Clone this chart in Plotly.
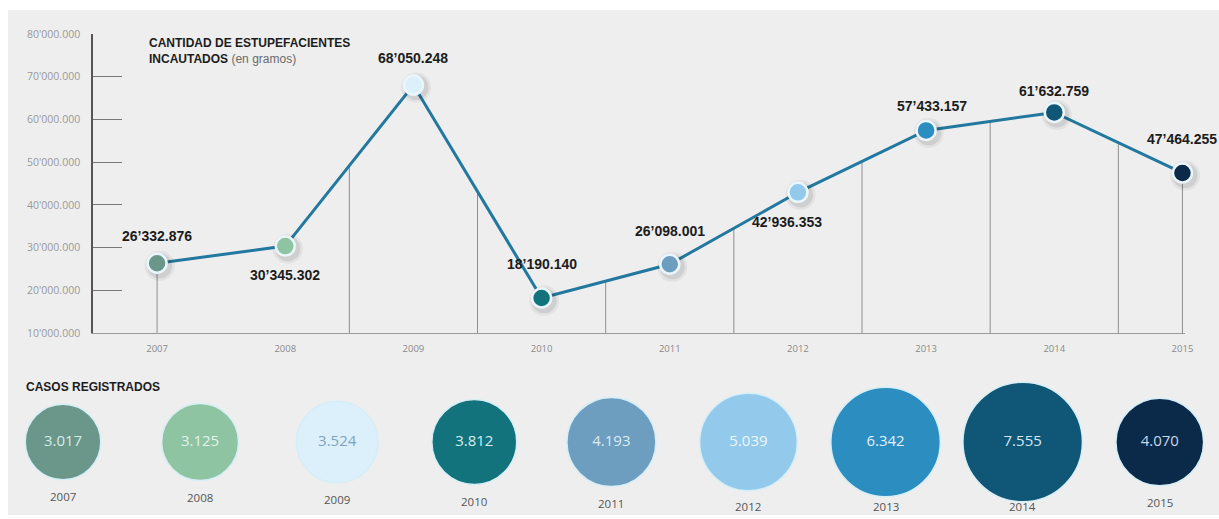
import numpy as np
import plotly.graph_objects as go

# ---- data -------------------------------------------------------------
years = [2007, 2008, 2009, 2010, 2011, 2012, 2013, 2014, 2015]
gramos = [26332876, 30345302, 68050248, 18190140, 26098001,
          42936353, 57433157, 61632759, 47464255]
casos = [3017, 3125, 3524, 3812, 4193, 5039, 6342, 7555, 4070]
y_ticks = [10000000, 20000000, 30000000, 40000000,
           50000000, 60000000, 70000000, 80000000]

# ---- styling ----------------------------------------------------------
year_colors = ["#6b978b", "#8fc4a3", "#dcf0fb", "#13737d", "#6d9dbf",
               "#93c9ea", "#2b8dc0", "#0f5677", "#0b2a4a"]
bubble_text_colors = ["#d4ece6", "#e2f2ea", "#7fa3bd", "#d4ecee", "#dcebf4",
                      "#eef7fc", "#e2f1f9", "#d6e8f2", "#c8d8e8"]
label_dy = [-27, 29, -27, -34, -33, 30, -24, -21, -34]   # px, negative = above
label_dx = [0, 0, 0, 0, 0, -11, 6, 0, 0]
BG = "#eeeeee"
LINE = "#22789f"
BOLD = "Liberation Sans, Arial, sans-serif"
SANS = "Open Sans, Noto Sans, sans-serif"

W, H = 1219, 519
ROW_Y = 442          # pixel row of the bubble centres


def fmt_amount(v, sep="\u2019"):
    s = f"{v:,}".replace(",", ".")
    parts = s.split(".")
    if len(parts) == 3:
        return parts[0] + sep + parts[1] + "." + parts[2]
    return s


fig = go.Figure()

# thin vertical guides from the curve down to the baseline
mid_x = [y + 0.5 for y in years[1:-1]]
guide_x = [years[0]] + mid_x + [years[-1]]
shapes = []
for gx in guide_x:
    top = float(np.interp(gx, years, gramos))
    shapes.append(dict(type="line", xref="x", yref="y", x0=gx, x1=gx,
                       y0=y_ticks[0], y1=top, layer="below",
                       line=dict(color="#8f8f8f", width=1)))

# white frame round the panel
shapes += [
    dict(type="rect", xref="paper", yref="paper", x0=0, x1=1, y0=1 - 10 / H, y1=1,
         fillcolor="white", line=dict(width=0), layer="below"),
    dict(type="rect", xref="paper", yref="paper", x0=0, x1=8 / W, y0=0, y1=1,
         fillcolor="white", line=dict(width=0), layer="below"),
    dict(type="rect", xref="paper", yref="paper", x0=0, x1=1, y0=0, y1=4 / H,
         fillcolor="white", line=dict(width=0), layer="below"),
]

# seized quantities: line
fig.add_trace(go.Scatter(x=years, y=gramos, mode="lines",
                         line=dict(color=LINE, width=3), hoverinfo="skip",
                         cliponaxis=False, showlegend=False))
# soft shadow under the points
for sz, op in [(30, 0.06), (25, 0.10)]:
    fig.add_trace(go.Scatter(x=[y + 0.02 for y in years],
                             y=[g - 600000 for g in gramos], mode="markers",
                             marker=dict(size=sz, color=f"rgba(40,40,40,{op})",
                                         line=dict(width=0)),
                             hoverinfo="skip", cliponaxis=False, showlegend=False))
fig.add_trace(go.Scatter(x=years, y=gramos, mode="markers",
                         marker=dict(size=19, color=year_colors,
                                     line=dict(color="#eaf6fb", width=2.5)),
                         cliponaxis=False, showlegend=False))

annotations = []
for yr, g, dx, dy in zip(years, gramos, label_dx, label_dy):
    annotations.append(dict(x=yr, y=g, xref="x", yref="y", text=f"<b>{fmt_amount(g)}</b>",
                            showarrow=False, xshift=dx, yshift=-dy,
                            font=dict(family=BOLD, size=14, color="#1c1c1c")))

# registered cases: area-proportional bubbles
k = 1.375
diam = [k * np.sqrt(c) for c in casos]
fig.add_trace(go.Scatter(x=years, y=[0] * len(years), xaxis="x2", yaxis="y2",
                         mode="markers+text",
                         marker=dict(size=diam, sizemode="diameter", color=year_colors,
                                     line=dict(color="#d6eef6", width=1.5), opacity=1),
                         text=[f"{c:,}".replace(",", ".") for c in casos],
                         textposition="middle center",
                         textfont=dict(family=SANS, size=15, color=bubble_text_colors),
                         cliponaxis=False, showlegend=False))
for yr, d in zip(years, diam):
    label_px = min(ROW_Y + d / 2 + 17, 506)
    annotations.append(dict(x=yr, y=ROW_Y - label_px, xref="x2", yref="y2", text=str(yr),
                            showarrow=False, yanchor="middle",
                            font=dict(family=SANS, size=11.5, color="#555555")))

# headings
annotations.append(dict(x=147 / W, y=1 - 34 / H, xref="paper", yref="paper",
                        xanchor="left", yanchor="top", align="left", showarrow=False,
                        text="<b>CANTIDAD DE ESTUPEFACIENTES</b><br><b>INCAUTADOS</b> "
                             "<span style='color:#6a6a6a'>(en gramos)</span>",
                        font=dict(family=BOLD, size=12, color="#1c1c1c")))
annotations.append(dict(x=24 / W, y=1 - 387 / H, xref="paper", yref="paper",
                        xanchor="left", yanchor="middle", showarrow=False,
                        text="<b>CASOS REGISTRADOS</b>",
                        font=dict(family=BOLD, size=12, color="#1c1c1c")))

fig.update_layout(
    width=W, height=H, autosize=False,
    margin=dict(l=0, r=0, t=0, b=0, autoexpand=False),
    paper_bgcolor=BG, plot_bgcolor="rgba(0,0,0,0)",
    shapes=shapes, annotations=annotations, showlegend=False,
    xaxis=dict(domain=[93 / W, 1185 / W], range=[2006.5, 2015.02],
               tickvals=years, ticktext=[str(y) for y in years],
               showgrid=False, zeroline=False, showline=True,
               linecolor="#9a9a9a", linewidth=1, ticks="",
               ticklabelstandoff=7,
               tickfont=dict(family=SANS, size=9.5, color="#8a8a8a")),
    yaxis=dict(domain=[1 - 333 / H, 1 - 34 / H], range=[10000000, 80000000],
               tickvals=y_ticks, ticktext=[fmt_amount(v, "'") for v in y_ticks],
               showgrid=False, zeroline=False, showline=True,
               linecolor="#555555", linewidth=1.5,
               ticks="inside", ticklen=29, tickcolor="#777777", tickwidth=1,
               ticklabelstandoff=9,
               tickfont=dict(family=SANS, size=10.5, color="#9a9a9a")),
    xaxis2=dict(domain=[0, 1], range=[2006.5405, 2015.432], visible=False,
                anchor="y2"),
    yaxis2=dict(domain=[0, 149 / H], range=[-77, 72], visible=False, anchor="x2"),
)

# the figure fills the whole page: drop the default body margin
fig.write_html("out.html", config={"responsive": False, "displayModeBar": False},
               post_script="document.body.style.margin='0';"
                           "document.body.style.overflow='hidden';")
